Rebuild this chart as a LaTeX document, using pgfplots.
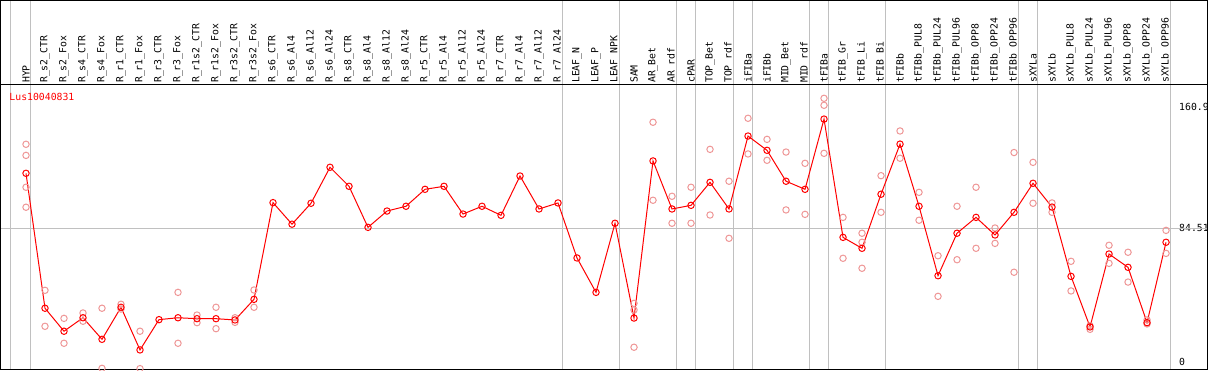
\documentclass[border=0pt]{standalone}
\usepackage{pgfplots}
\usepackage{pgfplotstable}
\pgfplotsset{compat=1.18}
\usepackage{fontspec}
\setmainfont{DejaVu Sans Mono}
\definecolor{repred}{RGB}{238,150,150}
\definecolor{sepgray}{RGB}{192,192,192}

\pgfplotstableread{
x y
1 119.2
2 34.1
3 19.6
4 28.1
5 14.5
6 34.7
7 7.8
8 26.9
9 28.1
10 27.5
11 27.5
12 26.7
13 39.7
14 100.7
15 87.1
16 100.3
17 123.0
18 111.0
19 85.1
20 95.4
21 98.4
22 109.1
23 111.0
24 93.5
25 98.4
26 92.7
27 117.5
28 96.7
29 100.5
30 65.8
31 44.1
32 87.7
33 27.9
34 127.0
35 96.7
36 99.0
37 113.5
38 96.7
39 142.7
40 133.7
41 114.2
42 109.1
43 153.4
44 78.8
45 71.9
46 106.0
47 137.6
48 98.4
49 54.6
50 81.4
51 91.4
52 80.3
53 94.6
54 112.9
55 97.9
56 54.2
57 22.3
58 68.3
59 59.9
60 25.0
61 75.7
}\maintable

\pgfplotstableread{
x y
1 137.5
1 130.5
1 110.4
1 97.8
2 45.4
2 22.7
3 27.7
3 12.0
4 31.1
4 25.9
5 34.1
5 -3.8
6 36.6
6 33.6
7 19.6
7 -4.0
9 44.1
9 12.0
10 29.8
10 25.0
11 34.7
11 21.2
12 28.1
12 25.2
13 45.6
13 34.7
33 37.2
33 33.0
33 9.5
34 151.4
34 102.2
35 104.7
35 87.7
36 110.4
36 87.7
37 134.3
37 92.9
38 114.2
38 78.2
39 153.9
39 131.4
40 140.6
40 127.4
41 132.6
41 96.1
42 125.5
42 93.3
43 166.5
43 162.1
43 131.8
44 91.4
44 65.6
45 81.4
45 75.7
45 59.3
46 117.7
46 94.6
47 145.9
47 128.7
48 107.2
48 89.6
49 67.2
49 41.6
50 98.4
50 64.7
51 110.4
51 71.9
52 84.7
52 75.0
53 132.3
53 56.8
54 126.1
54 100.3
55 100.5
55 94.6
56 63.7
56 45.0
57 23.1
57 20.8
58 73.8
58 62.4
59 69.4
59 50.6
60 26.7
60 24.2
61 83.2
61 68.7
}\reptable

\begin{document}
\begin{tikzpicture}
\path[use as bounding box] (-1pt,-1pt) rectangle (1208pt,369pt);
\begin{axis}[
  at={(0pt,0pt)}, anchor=south west,
  scale only axis, width=1206pt, height=284pt,
  xmin=-0.3158, xmax=63.158, ymin=-4.23, ymax=174.89,
  clip=false,
  axis line style={black, line width=1pt},
  major tick length=0pt,
  xtick={1,...,61},
  xticklabels={HYP,R\_s2\_CTR,R\_s2\_Fox,R\_s4\_CTR,R\_s4\_Fox,R\_r1\_CTR,R\_r1\_Fox,R\_r3\_CTR,R\_r3\_Fox,R\_r1s2\_CTR,R\_r1s2\_Fox,R\_r3s2\_CTR,R\_r3s2\_Fox,R\_s6\_CTR,R\_s6\_Al4,R\_s6\_Al12,R\_s6\_Al24,R\_s8\_CTR,R\_s8\_Al4,R\_s8\_Al12,R\_s8\_Al24,R\_r5\_CTR,R\_r5\_Al4,R\_r5\_Al12,R\_r5\_Al24,R\_r7\_CTR,R\_r7\_Al4,R\_r7\_Al12,R\_r7\_Al24,LEAF\_N,LEAF\_P,LEAF\_NPK,SAM,AR\_Bet,AR\_rdf,cPAR,TOP\_Bet,TOP\_rdf,iFIBa,iFIBb,MID\_Bet,MID\_rdf,tFIBa,tFIB\_Gr,tFIB\_Li,tFIB\_Bi,tFIBb,tFIBb\_PUL8,tFIBb\_PUL24,tFIBb\_PUL96,tFIBb\_OPP8,tFIBb\_OPP24,tFIBb\_OPP96,sXYLa,sXYLb,sXYLb\_PUL8,sXYLb\_PUL24,sXYLb\_PUL96,sXYLb\_OPP8,sXYLb\_OPP24,sXYLb\_OPP96},
  xtick pos=right, xticklabel pos=right,
  xticklabel style={rotate=90, anchor=west, inner xsep=2pt, inner ysep=0pt, font=\fontsize{9.8pt}{10pt}\selectfont},
  ytick={0,84.51,160.9},
  yticklabels={0,84.51,160.9},
  ytick pos=right, yticklabel pos=right,
  yticklabel style={anchor=west, inner sep=0pt, xshift=-28pt, font=\fontsize{9.8pt}{10pt}\selectfont},
  extra y ticks={84.51},
  extra y tick labels={},
  extra y tick style={grid=major, major grid style={sepgray, line width=1pt}},
]
\pgfplotsinvokeforeach{0.19,1.24,29.24,32.24,35.24,36.24,38.24,39.24,42.24,43.24,46.24,53.24,54.24,61.24}{
  \draw[sepgray, line width=1pt] (axis cs:#1,-4.23) -- (axis cs:#1,228.5);
}
\draw[black, line width=1pt] (rel axis cs:0,0) rectangle (rel axis cs:1,1.2975);
\draw[black, line width=1pt] (rel axis cs:0,1) -- (rel axis cs:1,1);
\node[anchor=base west, text=red, inner sep=0pt, font=\fontsize{9.8pt}{10pt}\selectfont] at (rel axis cs:0.00688,0.9437) {Lus10040831};
\addplot[only marks, mark=o, mark size=3.2pt, repred, line width=1pt] table[x=x,y=y]{\reptable};
\addplot[mark=o, mark size=3.2pt, red, line width=1pt, mark options={solid}] table[x=x,y=y]{\maintable};
\end{axis}
\end{tikzpicture}
\end{document}
